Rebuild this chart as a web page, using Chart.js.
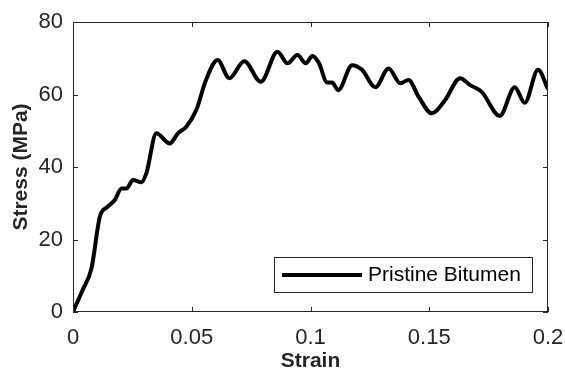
<!DOCTYPE html>
<html>
<head>
<meta charset="utf-8">
<script src="https://cdn.jsdelivr.net/npm/chart.js@4"></script>
<style>
  html, body { margin: 0; padding: 0; background: #fff; }
  #wrap { width: 565px; height: 374px; }
</style>
</head>
<body>
<div id="wrap"><canvas id="myChart" width="565" height="374"></canvas></div>
<script>
// values
const strain = [0, 0.004, 0.0078, 0.0113, 0.0145, 0.0176, 0.0204, 0.0225, 0.0253, 0.0288,
  0.0309, 0.0351, 0.0407, 0.0442, 0.0477, 0.0519, 0.056, 0.0609, 0.0658, 0.0721,
  0.0791, 0.0861, 0.0903, 0.0945, 0.098, 0.1008, 0.1036, 0.107, 0.1091, 0.1117,
  0.1175, 0.1217, 0.1273, 0.1329, 0.1378, 0.1413, 0.1455, 0.1511, 0.1567, 0.163,
  0.1672, 0.172, 0.1797, 0.186, 0.1902, 0.1958, 0.2];
const stress = [0, 6, 12.1, 26.3, 29, 30.9, 34.1, 34.1, 36.4, 35.8,
  38.3, 49.3, 46.5, 49.3, 51.1, 55.7, 64, 69.5, 64.5, 69.2,
  63.5, 71.8, 68.6, 70.9, 68.6, 70.6, 68.6, 63.3, 63.3, 61.2,
  68.1, 66.8, 62, 67.2, 63.1, 64, 59.4, 54.8, 58.5, 64.5,
  62.6, 60.8, 54.1, 62, 57.7, 66.8, 61.5];
const xTicks = [0, 0.05, 0.1, 0.15, 0.2];
const yTicks = [0, 20, 40, 60, 80];
const seriesName = 'Pristine Bitumen';

const axisColor = '#262626';

// MATLAB style box with inward ticks + legend inside the axes
const boxPlugin = {
  id: 'box',
  afterDraw(chart) {
    const { ctx, chartArea: a, scales } = chart;
    ctx.save();
    ctx.strokeStyle = axisColor;
    ctx.lineWidth = 1;
    ctx.strokeRect(a.left + 0.5, a.top + 0.5, a.right - a.left - 1, a.bottom - a.top - 1);
    const len = 5;
    ctx.beginPath();
    xTicks.forEach(v => {
      const px = Math.round(scales.x.getPixelForValue(v)) + 0.5;
      ctx.moveTo(px, a.bottom); ctx.lineTo(px, a.bottom - len);
      ctx.moveTo(px, a.top); ctx.lineTo(px, a.top + len);
    });
    yTicks.forEach(v => {
      const py = Math.round(scales.y.getPixelForValue(v)) + 0.5;
      ctx.moveTo(a.left, py); ctx.lineTo(a.left + len, py);
      ctx.moveTo(a.right, py); ctx.lineTo(a.right - len, py);
    });
    ctx.stroke();

    // legend
    const lx = 274, ly = 257, lw = 258, lh = 35;
    ctx.fillStyle = '#fff';
    ctx.fillRect(lx, ly, lw, lh);
    ctx.strokeStyle = axisColor;
    ctx.strokeRect(lx + 0.5, ly + 0.5, lw, lh);
    ctx.strokeStyle = '#000';
    ctx.lineWidth = 4;
    ctx.beginPath();
    ctx.moveTo(lx + 8, ly + 18);
    ctx.lineTo(lx + 88, ly + 18);
    ctx.stroke();
    ctx.fillStyle = '#000';
    ctx.font = '21px "Liberation Sans", Arial, sans-serif';
    ctx.textBaseline = 'middle';
    ctx.fillText(chart.data.datasets[0].label, lx + 94, ly + 18);
    ctx.restore();
  }
};

const ctx = document.getElementById('myChart').getContext('2d');
new Chart(ctx, {
  type: 'line',
  data: {
    datasets: [{
      label: seriesName,
      data: strain.map((x, i) => ({ x: x, y: stress[i] })),
      borderColor: '#000',
      borderWidth: 4,
      pointRadius: 0,
      cubicInterpolationMode: 'monotone',
      fill: false
    }]
  },
  options: {
    responsive: false,
    animation: false,
    layout: { padding: { top: 22, right: 17, left: 0, bottom: 0 } },
    plugins: { legend: { display: false }, tooltip: { enabled: false } },
    scales: {
      x: {
        type: 'linear',
        min: 0, max: 0.2,
        afterBuildTicks: s => { s.ticks = xTicks.map(v => ({ value: v })); },
        afterFit: s => { s.height = 62; s.paddingLeft = 0; s.paddingRight = 0; },
        grid: { display: false, drawTicks: false },
        border: { display: false },
        ticks: {
          color: axisColor,
          padding: 13,
          maxRotation: 0,
          font: { family: '"Liberation Sans", Arial, sans-serif', size: 22 },
          callback: v => String(v)
        },
        title: {
          display: true,
          text: 'Strain',
          color: axisColor,
          padding: { top: 0, bottom: 0 },
          font: { family: '"Liberation Sans", Arial, sans-serif', size: 21, weight: 'bold' }
        }
      },
      y: {
        min: 0, max: 80,
        afterBuildTicks: s => { s.ticks = yTicks.map(v => ({ value: v })); },
        afterFit: s => { s.width = 73; s.paddingTop = 0; s.paddingBottom = 0; },
        grid: { display: false, drawTicks: false },
        border: { display: false },
        ticks: {
          color: axisColor,
          padding: 10,
          font: { family: '"Liberation Sans", Arial, sans-serif', size: 22 }
        },
        title: {
          display: true,
          text: 'Stress (MPa)',
          color: axisColor,
          padding: { top: 9, bottom: 0 },
          font: { family: '"Liberation Sans", Arial, sans-serif', size: 21, weight: 'bold' }
        }
      }
    }
  },
  plugins: [boxPlugin]
});
</script>
</body>
</html>
